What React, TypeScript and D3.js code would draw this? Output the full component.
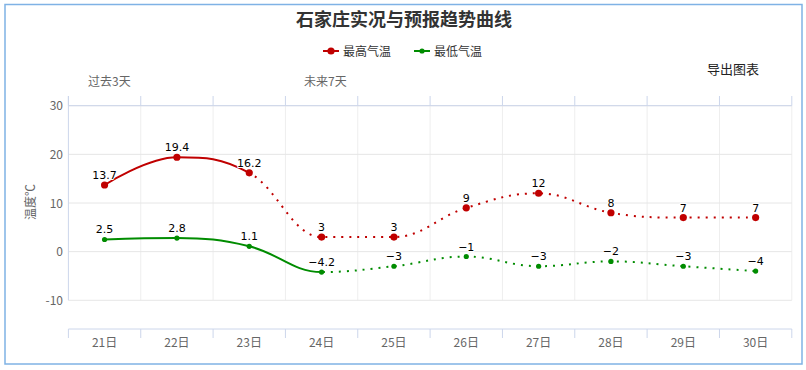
import React from 'react';
import * as d3 from 'd3';

const categories = ['21日', '22日', '23日', '24日', '25日', '26日', '27日', '28日', '29日', '30日'];
const highTemps = [13.7, 19.4, 16.2, 3, 3, 9, 12, 8, 7, 7];
const lowTemps = [2.5, 2.8, 1.1, -4.2, -3, -1, -3, -2, -3, -4];
const yTicks = [30, 20, 10, 0, -10];
const highSolidUntil = 2;
const lowSolidUntil = 3;
const titleText = '石家庄实况与预报趋势曲线';
const seriesNames = ['最高气温', '最低气温'];

const W = 806, H = 370;
const CN = '"Noto Sans CJK SC", "Microsoft YaHei", sans-serif';

function hcSpline(pts: [number, number][]) {
  const sm = 1.5, den = 2.5;
  const lc: [number, number][] = [];
  const rc: [number, number][] = [];
  pts.forEach(([px, py], i) => {
    let l: [number, number] = [px, py];
    let r: [number, number] = [px, py];
    if (i > 0 && i < pts.length - 1) {
      const [lx, ly] = pts[i - 1];
      const [nx, ny] = pts[i + 1];
      const lcx = (sm * px + lx) / den;
      let lcy = (sm * py + ly) / den;
      const rcx = (sm * px + nx) / den;
      let rcy = (sm * py + ny) / den;
      const corr = ((rcy - lcy) * (rcx - px)) / (rcx - lcx) + py - rcy;
      lcy += corr;
      rcy += corr;
      if (lcy > ly && lcy > py) { lcy = Math.max(ly, py); rcy = 2 * py - lcy; }
      else if (lcy < ly && lcy < py) { lcy = Math.min(ly, py); rcy = 2 * py - lcy; }
      if (rcy > ny && rcy > py) { rcy = Math.max(ny, py); lcy = 2 * py - rcy; }
      else if (rcy < ny && rcy < py) { rcy = Math.min(ny, py); lcy = 2 * py - rcy; }
      l = [lcx, lcy];
      r = [rcx, rcy];
    }
    lc.push(l);
    rc.push(r);
  });
  let d = `M${pts[0][0]},${pts[0][1]}`;
  for (let i = 1; i < pts.length; i++) {
    d += `C${rc[i - 1][0]},${rc[i - 1][1]},${lc[i][0]},${lc[i][1]},${pts[i][0]},${pts[i][1]}`;
  }
  return d;
}

const fmt = (v: number) => String(v).replace('-', '\u2212');

export default function App() {
  const x = d3.scaleBand<string>().domain(categories).range([68.4, 791.8]);
  const y = d3.scaleLinear().domain([-10, 30]).range([300.3, 105.7]);
  const cx = (c: string) => (x(c) as number) + x.bandwidth() / 2;
  const plotLeft = 68.4, plotRight = 791.8;
  const topAxisY = y(30);
  const bottomAxisY = 329;
  const bounds = categories.map((c) => x(c) as number).concat([plotRight]);

  const series = [
    { name: seriesNames[0], data: highTemps, color: '#c00000', r: 3.6, solidUntil: highSolidUntil, id: 'hi' },
    { name: seriesNames[1], data: lowTemps, color: '#008c00', r: 2.6, solidUntil: lowSolidUntil, id: 'lo' },
  ];

  return (
    <svg width={W} height={H} style={{ position: 'absolute', left: 0, top: 0, background: '#fff' }}>
      <defs>
        {series.map((s) => (
          <React.Fragment key={s.id}>
            <clipPath id={`${s.id}-solid`}>
              <rect x={0} y={0} width={cx(categories[s.solidUntil])} height={H} />
            </clipPath>
            <clipPath id={`${s.id}-dot`}>
              <rect x={cx(categories[s.solidUntil])} y={0} width={W} height={H} />
            </clipPath>
          </React.Fragment>
        ))}
      </defs>
      <rect x={5} y={4.5} width={797} height={359.5} fill="#fff" stroke="#7fb2e5" strokeWidth={1.5} />

      {/* title */}
      <text x={404} y={26} textAnchor="middle" fontFamily={CN} fontSize={18} fontWeight="bold" fill="#333">{titleText}</text>

      {/* legend */}
      {series.map((s, i) => {
        const lx = i === 0 ? 323 : 414;
        return (
          <g key={s.id}>
            <line x1={lx} x2={lx + 16} y1={51} y2={51} stroke={s.color} strokeWidth={2} />
            <circle cx={lx + 8} cy={51} r={s.r} fill={s.color} />
            <text x={lx + 20} y={55.5} fontFamily={CN} fontSize={12} fill="#333">{s.name}</text>
          </g>
        );
      })}

      <text x={707} y={74} fontFamily={CN} fontSize={13} fill="#222">导出图表</text>
      <text x={88} y={86} fontFamily={CN} fontSize={12} fill="#666">过去3天</text>
      <text x={304} y={86} fontFamily={CN} fontSize={12} fill="#666">未来7天</text>

      {/* vertical grid */}
      {bounds.slice(1).map((bx, i) => (
        <line key={`vg${i}`} x1={bx} x2={bx} y1={topAxisY} y2={y(-10)} stroke="#eeeeee" strokeWidth={1} />
      ))}
      {/* horizontal grid */}
      {yTicks.map((t) => (
        <line key={`hg${t}`} x1={plotLeft} x2={plotRight} y1={y(t)} y2={y(t)} stroke="#e6e6e6" strokeWidth={1} />
      ))}
      {/* y axis line */}
      <line x1={plotLeft} x2={plotLeft} y1={96} y2={y(-10)} stroke="#ccd6eb" strokeWidth={1} />
      {/* top axis */}
      <line x1={plotLeft} x2={plotRight} y1={topAxisY} y2={topAxisY} stroke="#ccd6eb" strokeWidth={1} />
      {bounds.map((bx, i) => (
        <line key={`tt${i}`} x1={bx} x2={bx} y1={96} y2={topAxisY} stroke="#ccd6eb" strokeWidth={1} />
      ))}
      {/* bottom axis */}
      <line x1={plotLeft} x2={plotRight} y1={bottomAxisY} y2={bottomAxisY} stroke="#ccd6eb" strokeWidth={1} />
      {bounds.map((bx, i) => (
        <line key={`bt${i}`} x1={bx} x2={bx} y1={bottomAxisY} y2={bottomAxisY + 9} stroke="#ccd6eb" strokeWidth={1} />
      ))}
      {categories.map((c) => (
        <text key={c} x={cx(c)} y={347} textAnchor="middle" fontFamily={CN} fontSize={12} fill="#666">{c}</text>
      ))}
      {/* y labels */}
      {yTicks.map((t) => (
        <text key={`yl${t}`} x={63} y={y(t) + 4.5} textAnchor="end" fontFamily={CN} fontSize={12} fill="#666">{t}</text>
      ))}
      <text transform={`translate(35,202) rotate(-90)`} textAnchor="middle" fontFamily={CN} fontSize={12} fill="#666">温度℃</text>

      {/* series */}
      {series.map((s) => {
        const pts: [number, number][] = s.data.map((v, i) => [cx(categories[i]), y(v)]);
        const d = hcSpline(pts);
        return (
          <g key={s.id}>
            <path d={d} fill="none" stroke={s.color} strokeWidth={2} clipPath={`url(#${s.id}-solid)`} />
            <path d={d} fill="none" stroke={s.color} strokeWidth={2} strokeDasharray="2,6" clipPath={`url(#${s.id}-dot)`} />
            {pts.map(([px, py], i) => (
              <circle key={i} cx={px} cy={py} r={s.r} fill={s.color} />
            ))}
            {pts.map(([px, py], i) => (
              <text key={`l${i}`} x={px} y={py - 6} textAnchor="middle" fontFamily='"DejaVu Sans", Verdana, sans-serif' fontSize={11}
                fill="#000" stroke="#fff" strokeWidth={2} paintOrder="stroke" strokeLinejoin="round">{fmt(s.data[i])}</text>
            ))}
          </g>
        );
      })}
    </svg>
  );
}
